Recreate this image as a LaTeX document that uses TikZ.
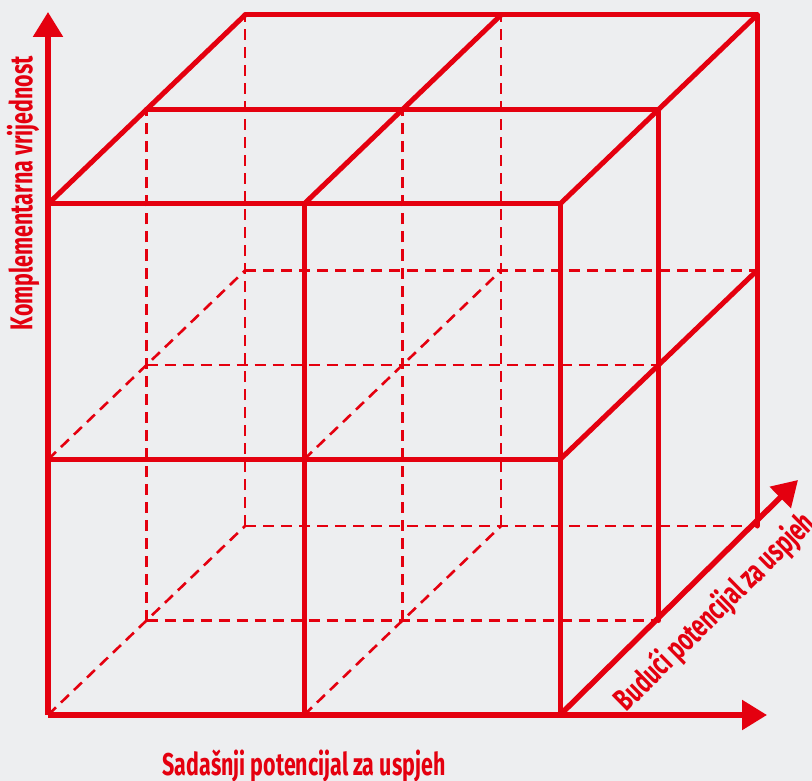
\documentclass[tikz,border=0pt]{standalone}
\usepackage{fontspec}
\newfontfamily\axisfont[FakeStretch=0.68]{Fira Sans}
\usetikzlibrary{arrows.meta}
\definecolor{cubered}{RGB}{228,0,15}
\definecolor{paper}{RGB}{237,238,240}
\tikzset{
  edge/.style={draw=cubered, line width=5pt, line cap=round, line join=round},
  hidden/.style={draw=cubered, line width=2.6pt, dash pattern=on 11pt off 7pt},
  axis/.style={draw=cubered, line width=5.5pt, -{Triangle[length=25pt,width=29pt]}},
  axislabel/.style={text=cubered, font=\axisfont\bfseries\fontsize{31.5}{33}\selectfont, inner sep=0pt}
}
\begin{document}
\begin{tikzpicture}[x=1pt,y=-1pt]
                %%% Canvas
                \fill[paper] (0,0) rectangle (812,781);
                \useasboundingbox (0,0) rectangle (812,781);
                %%% Grid corners: c<x><y><depth>
                \foreach \i in {0,1,2}
                    \foreach \j in {0,1,2}
                        \foreach \k in {0,1,2}
                            \coordinate (c\i\j\k) at ({48+256*\i+98.5*\k},{715-255.5*\j-94.5*\k});
                %%% Hidden edges (dashed)
                \foreach \k in {1,2}{
                    \foreach \i in {0,1} \draw[hidden] (c\i0\k) -- (c\i2\k);
                    \foreach \j in {0,1} \draw[hidden] (c0\j\k) -- (c2\j\k);
                }
                \foreach \i in {0,1}
                    \foreach \j in {0,1} \draw[hidden] (c\i\j0) -- (c\i\j2);
                %%% Visible edges
                \foreach \j in {1,2} \draw[edge] (c0\j0) -- (c2\j0);
                \foreach \i in {1,2} \draw[edge] (c\i00) -- (c\i20);
                \foreach \k in {1,2} \draw[edge] (c02\k) -- (c22\k) -- (c20\k);
                \foreach \i in {0,1,2} \draw[edge] (c\i20) -- (c\i22);
                \draw[edge] (c210) -- (c212);
                %%% Axes with arrows
                \coordinate (ytip) at (48,12);
                \coordinate (xtip) at (767,715);
                \coordinate (ztip) at (798,480);
                \draw[axis] (c000) -- (ytip);
                \draw[axis] (c000) -- (xtip);
                \draw[axis] (c200) -- (ztip);
                %%% Axis labels
                \node[axislabel, rotate=90] (ylabel) at (23,193) {Komplementarna vrijednost};
                \node[axislabel] (xlabel) at (304,766) {Sadašnji potencijal za uspjeh};
                \node[axislabel, rotate=44.6] (zlabel) at (715,612) {Budući potencijal za uspjeh};
\end{tikzpicture}
\end{document}
